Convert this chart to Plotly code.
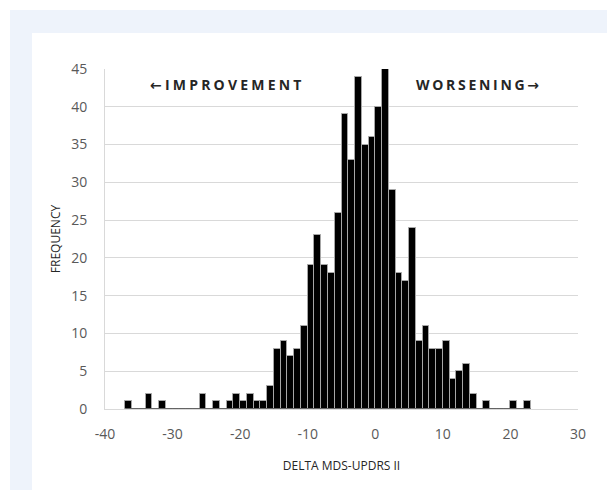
import plotly.graph_objects as go

# Histogram bins: left edges of width-1 bins and frequencies
bin_left = list(range(-37, 23))
counts = [1, 0, 0, 2, 0, 1, 0, 0, 0, 0, 0, 2, 0, 1, 0, 1, 2, 1, 2, 1,
          1, 3, 8, 9, 7, 8, 11, 19, 23, 19, 18, 26, 39, 33, 44, 35, 36, 40, 45, 29,
          18, 17, 24, 9, 11, 8, 8, 9, 4, 5, 6, 2, 0, 1, 0, 0, 0, 1, 0, 1]
x_ticks = [-40, -30, -20, -10, 0, 10, 20, 30]
x_tick_text = ["-40", "-30", "-20", "-10", "0", "10", "20", "30"]
y_ticks = [0, 5, 10, 15, 20, 25, 30, 35, 40, 45]

centers = [b + 0.5 for b in bin_left]

W, H = 615, 490
OFF = 8  # page body margin offset
L, R, T, B = 105 - OFF, 578 - OFF, 69 - OFF, 409 - OFF  # plot area in figure px


def px_x(p):
    return (p - OFF - L) / (R - L)


def px_y(p):
    return (B - (p - OFF)) / (B - T)


fig = go.Figure()

# dark baseline under the binned range (zero-height bins)
fig.add_trace(go.Scatter(
    x=[bin_left[0], bin_left[-1] + 1], y=[0, 0], mode="lines",
    line=dict(color="#222222", width=1.2), hoverinfo="skip", showlegend=False))

fig.add_trace(go.Bar(
    x=centers, y=counts, width=1,
    marker=dict(color="black", line=dict(color="#a6a6a6", width=1)),
    showlegend=False))

ann_font = dict(family="Open Sans", size=14, color="#262626")
arrow_l = "<span style='font-family:DejaVu Sans'>←</span>"
arrow_r = "<span style='font-family:DejaVu Sans'>→</span>"
fig.update_layout(
    width=W, height=H,
    margin=dict(l=L, r=W - R, t=T, b=H - B),
    paper_bgcolor="white", plot_bgcolor="rgba(0,0,0,0)",
    font=dict(family="Open Sans", color="#595959", size=14),
    bargap=0,
    shapes=[
        dict(type="rect", xref="paper", yref="paper", layer="below",
             x0=px_x(10), x1=px_x(W + 20), y0=px_y(H + 20), y1=px_y(10),
             fillcolor="#eef3fb", line=dict(width=0)),
        dict(type="rect", xref="paper", yref="paper", layer="below",
             x0=px_x(32), x1=px_x(607), y0=px_y(H + 20), y1=px_y(33),
             fillcolor="white", line=dict(width=0)),
    ],
    annotations=[
        dict(text="<span style='letter-spacing:3.2px'><b>" + arrow_l + "IMPROVEMENT</b></span>",
             x=px_x(148), y=px_y(73), xref="paper", yref="paper",
             xanchor="left", align="left",
             showarrow=False, font=ann_font),
        dict(text="<span style='letter-spacing:2.7px'><b>WORSENING" + arrow_r + "</b></span>",
             x=px_x(414), y=px_y(73), xref="paper", yref="paper",
             xanchor="left", align="left",
             showarrow=False, font=ann_font),
    ],
)

fig.update_xaxes(
    range=[-40, 30], tickvals=x_ticks, ticktext=x_tick_text, showgrid=False, zeroline=False,
    showline=True, linecolor="#d9d9d9", linewidth=1,
    ticks="outside", ticklen=12, tickcolor="rgba(0,0,0,0)",
    title=dict(text="DELTA MDS-UPDRS II", font=dict(size=12, color="#262626"), standoff=19),
)
fig.update_yaxes(
    range=[0, 45], tickvals=y_ticks, showgrid=True, gridcolor="#d9d9d9", gridwidth=1,
    zeroline=False, showline=True, linecolor="#d9d9d9", linewidth=1,
    ticks="outside", ticklen=14, tickcolor="rgba(0,0,0,0)",
    title=dict(text="FREQUENCY", font=dict(size=12, color="#262626"), standoff=7),
)

fig.write_html("out.html")
